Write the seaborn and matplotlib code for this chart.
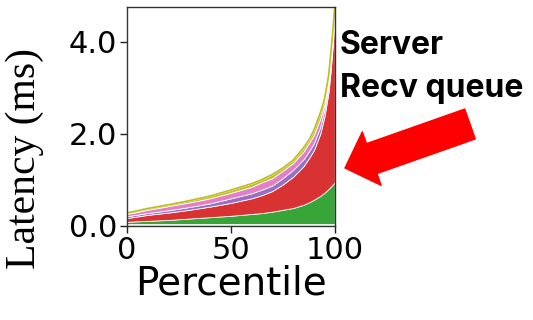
import numpy as np
import matplotlib
matplotlib.use("Agg")
import matplotlib.pyplot as plt
import seaborn as sns

percentile = [0, 10, 20, 30, 40, 50, 60, 65, 70, 75, 80, 85, 88, 90, 93, 95, 97, 98, 99, 100]
layer_blue = [0.02] * 20
layer_orange = [0.02] * 20
layer_green = [0.05, 0.07, 0.09, 0.12, 0.15, 0.18, 0.22, 0.24, 0.27, 0.31, 0.35, 0.42, 0.48, 0.53, 0.61, 0.68, 0.76, 0.81, 0.86, 0.91]
layer_red = [0.08, 0.13, 0.16, 0.19, 0.23, 0.28, 0.34, 0.39, 0.45, 0.55, 0.68, 0.84, 0.98, 1.08, 1.35, 1.65, 2.10, 2.50, 3.00, 3.60]
layer_purple = [0.04, 0.04, 0.05, 0.06, 0.07, 0.10, 0.11, 0.12, 0.12, 0.14, 0.15, 0.15, 0.15, 0.15, 0.15, 0.15, 0.13, 0.15, 0.12, 0.07]
layer_pink = [0.05, 0.07, 0.09, 0.10, 0.11, 0.12, 0.14, 0.16, 0.16, 0.16, 0.15, 0.17, 0.18, 0.18, 0.18, 0.11, 0.12, 0.10, 0.10, 0.08]
layer_olive = [0.02, 0.03, 0.03, 0.04, 0.05, 0.06, 0.07, 0.06, 0.08, 0.06, 0.06, 0.08, 0.07, 0.11, 0.12, 0.11, 0.10, 0.10, 0.08, 0.06]

sns.set_theme(style="ticks")
plt.rcParams["text.color"] = "black"
plt.rcParams["axes.labelcolor"] = "black"
pal = sns.color_palette("tab10")

fig = plt.figure(figsize=(5.33, 3.2), dpi=100)
ax = fig.add_axes([0.238, 0.294, 0.390, 0.684])

layers = [layer_blue, layer_orange, layer_green, layer_red, layer_purple, layer_pink, layer_olive]
cols = [pal[0], pal[1], pal[2], pal[3], pal[4], pal[6], pal[8]]
ax.stackplot(percentile, *layers, colors=cols, alpha=0.95, linewidth=0.6)
total = np.sum(np.array(layers), axis=0)
sns.lineplot(x=percentile, y=total, color=pal[8], lw=1.2, ax=ax)

ax.set_xlim(0, 100)
ax.set_ylim(0, 4.76)
ax.set_xticks([0, 50, 100])
ax.set_yticks([0, 2, 4])
ax.set_yticklabels(["0.0", "2.0", "4.0"])
for s in ax.spines.values():
    s.set_visible(True)
    s.set_color("#333333")
    s.set_linewidth(1.0)
ax.tick_params(labelsize=22, length=5, width=1, colors="#222222", labelcolor="black", pad=2)
for t in ax.get_xticklabels() + ax.get_yticklabels():
    t.set_family("DejaVu Sans")
ax.set_xlabel("Percentile", fontsize=28, family="DejaVu Sans", labelpad=0, color="black")
ax.set_ylabel("Latency (ms)", fontsize=30, family="Liberation Serif", color="black")
ax.yaxis.set_label_coords(-0.40, 0.31)

fig.text(340 / 533, 1 - 46 / 320, "Server", fontsize=23, fontweight="bold", family="Inter", color="black", va="center", ha="left")
fig.text(340 / 533, 1 - 89 / 320, "Recv queue", fontsize=23, fontweight="bold", family="Inter", color="black", va="center", ha="left")

ax.annotate("", xy=(345, 320 - 168), xycoords="figure pixels",
            xytext=(470, 320 - 124), textcoords="figure pixels",
            arrowprops=dict(arrowstyle="simple,head_width=1.7,head_length=0.85,tail_width=0.95",
                            color="#ff0000", mutation_scale=24, shrinkA=0, shrinkB=0))

fig.savefig("out.png", dpi=100)
